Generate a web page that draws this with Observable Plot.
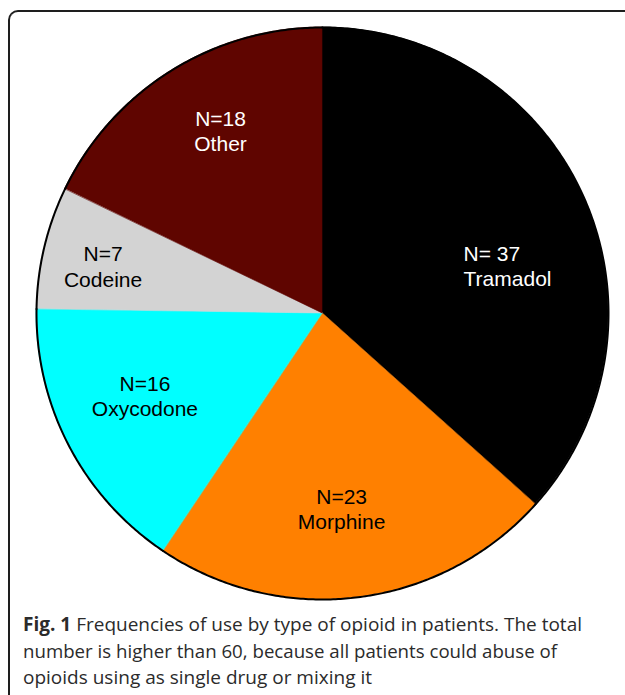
<!DOCTYPE html>
<html><head><meta charset="utf-8">
<script src="https://cdn.jsdelivr.net/npm/d3@7"></script>
<script src="https://cdn.jsdelivr.net/npm/@observablehq/plot@0.6"></script>
<style>
html,body{margin:0;padding:0;background:#fff;overflow:hidden;width:625px;height:695px;}
#frame{position:absolute;left:8px;top:10px;width:700px;height:800px;border-top:2px solid #1e1e1e;border-left:2px solid #1e1e1e;border-top-left-radius:10px;box-sizing:border-box;}
#chart{position:absolute;left:0;top:0;}
#caption{position:absolute;left:23px;top:611px;font-family:"Open Sans", Lato, sans-serif;font-size:19px;color:#2b2b2b;line-height:26.5px;}
#caption div{white-space:nowrap;}
#caption span{display:inline-block;transform-origin:0 50%;}
</style></head><body>
<div id="frame"></div>
<div id="chart"></div>
<div id="caption">
<div><span data-w="559"><b>Fig. 1</b> Frequencies of use by type of opioid in patients. The total</span></div>
<div><span data-w="534">number is higher than 60, because all patients could abuse of</span></div>
<div><span data-w="349">opioids using as single drug or mixing it</span></div>
</div>
<script>
// data
const drugs = ["Tramadol", "Morphine", "Oxycodone", "Codeine", "Other"];
const counts = [37, 23, 16, 7, 18];
const countLabels = ["N= 37", "N=23", "N=16", "N=7", "N=18"];
// styles
const colors = ["#000000", "#ff8000", "#00ffff", "#d3d3d3", "#5f0500"];
const textColors = ["#ffffff", "#000000", "#000000", "#000000", "#ffffff"];
// label layout (angle in degrees clockwise from top, radius as fraction of pie radius)
const labelAngle = [71.2, 174.4, 245.2, 282.2, 330.9];
const labelRadius = [0.521, 0.685, 0.684, 0.785, 0.733];
const labelAnchor = ["start", "middle", "middle", "middle", "middle"];

const arcs = d3.pie().sort(null).value(d => d)(counts);
const slicePts = [];
arcs.forEach((p, i) => {
  const n = Math.max(2, Math.ceil((p.endAngle - p.startAngle) / (Math.PI / 360)));
  for (let k = 0; k <= n; k++) {
    const a = p.startAngle + (p.endAngle - p.startAngle) * k / n;
    slicePts.push({drug: drugs[i], x: Math.sin(a), y: Math.cos(a)});
  }
});

const labels = drugs.map((d, i) => {
  const a = labelAngle[i] * Math.PI / 180;
  return {drug: d, text: countLabels[i] + "\n" + d, x: labelRadius[i] * Math.sin(a), y: labelRadius[i] * Math.cos(a)};
});

const textMarks = labels.map((l, i) => Plot.text([l], {
  x: "x", y: "y", text: "text", fill: textColors[i], textAnchor: labelAnchor[i],
  lineAnchor: "middle", lineHeight: 1.21, fontSize: 21,
  fontFamily: "'Liberation Sans', Arial, sans-serif"
}));

const chart = Plot.plot({
  width: 625, height: 610,
  marginLeft: 36, marginRight: 17, marginTop: 27, marginBottom: 11,
  x: {domain: [-1, 1], axis: null},
  y: {domain: [-1, 1], axis: null},
  color: {domain: drugs, range: colors},
  style: {background: "transparent"},
  marks: [
    Plot.area(slicePts, {x1: "x", y1: "y", x2: 0, y2: 0, z: "drug", fill: "drug", stroke: "drug", strokeWidth: 0.6}),
    Plot.line(slicePts, {x: "x", y: "y", z: "drug", stroke: "#000", strokeWidth: 2}),
    ...textMarks
  ]
});
document.getElementById("chart").appendChild(chart);

function fit() {
  document.querySelectorAll("#caption span").forEach(s => {
    s.style.transform = "none";
    const w = s.getBoundingClientRect().width;
    const t = +s.dataset.w;
    if (w > 0) s.style.transform = `scaleX(${t / w})`;
  });
}
fit();
if (document.fonts && document.fonts.ready) document.fonts.ready.then(fit);
</script>
</body></html>
